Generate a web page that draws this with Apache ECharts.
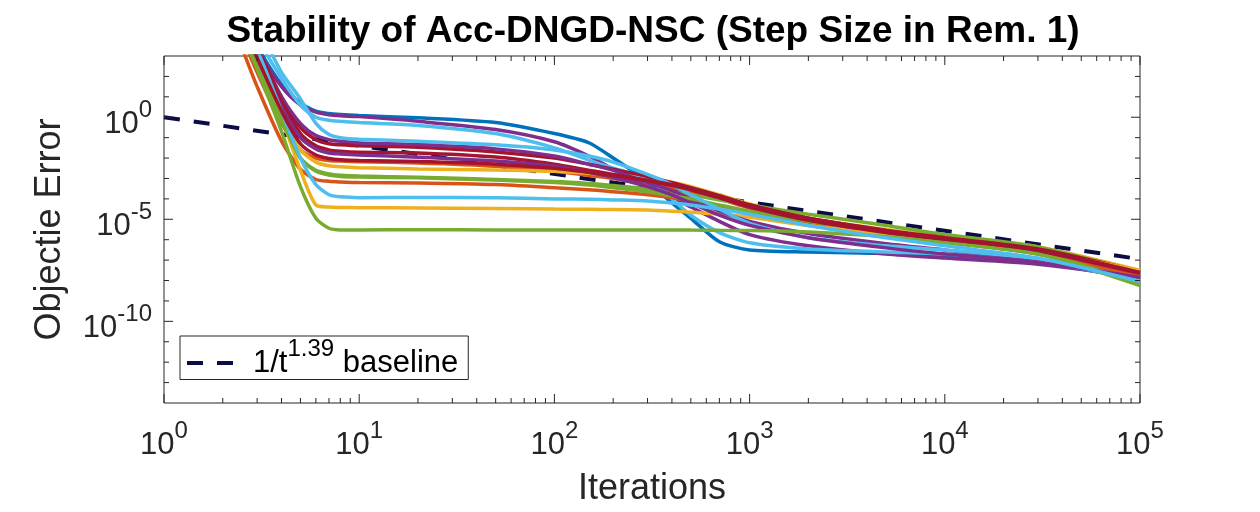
<!DOCTYPE html>
<html>
<head>
<meta charset="utf-8">
<script src="https://cdn.jsdelivr.net/npm/echarts@6/dist/echarts.min.js"></script>
<style>
  html, body { margin: 0; padding: 0; background: #fff; }
  #chart { width: 1260px; height: 512px; }
</style>
</head>
<body>
<div id="chart"></div>
<script type="text/javascript">

// iterations sampled for every run (log x axis)
var iters = [1, 2, 3, 4, 5, 6, 7, 8, 10, 20, 50, 100, 150, 200, 300, 400, 500, 700, 1000, 2000, 5000, 10000, 30000, 100000];

// objective error of each run, stored as log10 values
var runBlueA     = [11, 6.8, 3.5, 1.6, 0.7, 0.3, 0.18, 0.13, 0.08, -0.03, -0.26, -0.8, -1.25, -2.0, -3.15, -4.2, -4.95, -6.1, -6.5, -6.6, -6.68, -6.78, -7.1, -7.95];
var runPurpleA   = [11, 6.6, 3.3, 1.5, 0.6, 0.25, 0.12, 0.07, 0.03, -0.2, -0.6, -1.2, -1.9, -2.55, -3.45, -3.95, -4.4, -5.1, -5.75, -6.3, -6.7, -6.9, -7.2, -7.85];
var runLBlueA    = [11, 7.0, 3.9, 1.9, 0.6, 0.0, -0.15, -0.2, -0.26, -0.4, -0.8, -1.5, -2.1, -2.5, -3.0, -4.0, -4.8, -5.65, -6.15, -6.45, -6.6, -6.7, -7.05, -8.0];
var runLBlueB    = [11, 7.2, 4.5, 2.2, 0.9, -0.3, -0.85, -1.0, -1.08, -1.18, -1.35, -1.6, -1.9, -2.2, -2.8, -3.3, -3.8, -4.5, -5.2, -5.9, -6.3, -6.5, -6.95, -7.95];
var runPurpleB   = [11, 6.7, 3.2, 1.0, -0.3, -0.9, -1.1, -1.18, -1.26, -1.34, -1.55, -1.9, -2.3, -2.6, -3.2, -3.6, -4.0, -4.6, -5.1, -5.7, -6.2, -6.5, -7.0, -7.9];
var runRedA      = [11, 6.8, 3.4, 1.0, -0.5, -1.1, -1.3, -1.35, -1.4, -1.47, -1.7, -2.0, -2.3, -2.55, -2.9, -3.2, -3.45, -3.85, -4.3, -4.95, -5.55, -5.9, -6.45, -7.55];
var runRedB      = [11, 6.7, 3.3, 0.8, -0.8, -1.4, -1.6, -1.67, -1.72, -1.75, -1.95, -2.3, -2.6, -2.8, -3.1, -3.35, -3.55, -3.95, -4.4, -5.05, -5.65, -6.0, -6.55, -7.65];
var runPurpleC   = [11, 6.5, 3.0, 0.5, -1.0, -1.55, -1.75, -1.8, -1.85, -1.96, -2.15, -2.4, -2.7, -2.95, -3.4, -3.8, -4.2, -4.8, -5.3, -5.9, -6.4, -6.7, -7.1, -7.85];
var runRedC      = [11, 6.5, 2.9, 0.3, -1.3, -1.85, -2.02, -2.08, -2.12, -2.17, -2.3, -2.5, -2.7, -2.85, -3.1, -3.3, -3.5, -3.85, -4.3, -4.95, -5.55, -5.95, -6.5, -7.6];
var runOrangeA   = [10.5, 6.0, 2.2, -0.3, -1.6, -2.0, -2.12, -2.15, -2.18, -2.24, -2.4, -2.65, -2.85, -3.0, -3.25, -3.45, -3.65, -4.0, -4.45, -5.1, -5.7, -6.05, -6.6, -7.7];
var runYellowA   = [11, 6.4, 2.8, 0.0, -1.6, -2.2, -2.38, -2.43, -2.47, -2.53, -2.58, -2.65, -2.75, -2.85, -3.0, -3.2, -3.4, -3.8, -4.25, -4.95, -5.5, -5.85, -6.35, -7.5];
var runGreenA    = [10.5, 6.2, 2.4, -0.2, -2.0, -2.6, -2.78, -2.84, -2.88, -2.94, -3.05, -3.15, -3.25, -3.35, -3.5, -3.65, -3.8, -4.05, -4.3, -4.75, -5.3, -5.75, -6.35, -7.6];
var runGreenB    = [10.5, 6.4, 2.6, -0.1, -2.0, -2.65, -2.83, -2.9, -2.93, -2.97, -3.08, -3.2, -3.32, -3.45, -3.65, -3.85, -4.0, -4.3, -4.6, -5.1, -5.6, -6.0, -6.6, -8.2];
var runOrangeB   = [10, 5.6, 1.5, -1.17, -2.55, -3.05, -3.14, -3.17, -3.2, -3.22, -3.3, -3.45, -3.55, -3.65, -3.8, -3.95, -4.1, -4.35, -4.65, -5.15, -5.7, -6.1, -6.7, -7.85];
var runLBlueC    = [11, 6.6, 3.3, 0.3, -2.0, -3.3, -3.8, -3.9, -3.94, -3.93, -3.95, -4.0, -4.02, -4.05, -4.1, -4.2, -4.3, -4.5, -4.75, -5.3, -5.9, -6.3, -6.9, -8.05];
var runYellowB   = [11, 6.5, 3.0, 0.0, -2.6, -4.3, -4.4, -4.42, -4.43, -4.45, -4.47, -4.5, -4.51, -4.52, -4.55, -4.6, -4.65, -4.75, -4.9, -5.3, -5.75, -6.05, -6.6, -7.5];
var runGreenC    = [10.5, 6.95, 2.4, -0.7, -3.4, -4.95, -5.44, -5.52, -5.52, -5.51, -5.52, -5.52, -5.52, -5.52, -5.52, -5.52, -5.53, -5.54, -5.55, -5.62, -5.85, -6.15, -6.7, -8.25];

// the 1/t^1.39 reference line, two end points
var baseIters = [1, 100000];
var baseVals = [1, 1.12e-7];

// matlab default colour order
var cBlue = '#0072BD', cOrange = '#D95319', cYellow = '#EDB120', cPurple = '#7E2F8E';
var cGreen = '#77AC30', cLBlue = '#4DBEEE', cRed = '#A2142F';
var cBase = '#0b0b45';

var runs = [
  ['r1', runBlueA, cBlue], ['r2', runOrangeA, cOrange], ['r3', runYellowA, cYellow],
  ['r4', runPurpleA, cPurple], ['r5', runGreenA, cGreen], ['r6', runLBlueA, cLBlue],
  ['r7', runRedA, cRed], ['r8', runOrangeB, cOrange], ['r9', runYellowB, cYellow],
  ['r10', runPurpleB, cPurple], ['r11', runGreenB, cGreen], ['r12', runLBlueB, cLBlue],
  ['r13', runRedB, cRed], ['r14', runPurpleC, cPurple], ['r15', runGreenC, cGreen],
  ['r16', runLBlueC, cLBlue], ['r17', runRedC, cRed]
];

var xMin = 1, xMax = 1e5, yMin = 1e-14, yMax = 1e3;
var axisColor = '#262626';
var font = '"Liberation Sans", Helvetica, Arial, sans-serif';

// tick marks (matlab style, inside, on all four sides)
var tickData = [];
for (var d = 0; d <= 5; d++) {
  tickData.push([Math.pow(10, d), yMin, 0, 1]);
  if (d < 5) for (var k = 2; k <= 9; k++) tickData.push([k * Math.pow(10, d), yMin, 0, 0]);
}
for (var e = -13; e <= 2; e++) {
  tickData.push([xMin, Math.pow(10, e), 1, e % 5 === 0 ? 1 : 0]);
}

function powLabel(v) {
  var e = Math.round(Math.log10(v));
  return '{b|10}{s|' + e + '}';
}

var richPow = {
  b: { fontSize: 31, lineHeight: 52, color: axisColor, fontFamily: font },
  s: { fontSize: 24, lineHeight: 24, verticalAlign: 'top', color: axisColor, fontFamily: font }
};

var series = [];
series.push({
  name: 'baseline',
  type: 'line',
  data: baseIters.map(function (t, i) { return [t, baseVals[i]]; }),
  showSymbol: false,
  symbol: 'none',
  lineStyle: { color: cBase, width: 4, type: [16, 14] },
  itemStyle: { color: cBase },
  z: 1
});
runs.forEach(function (r) {
  series.push({
    name: r[0],
    type: 'line',
    data: iters.map(function (t, i) { return [t, Math.pow(10, r[1][i])]; }),
    showSymbol: false,
    symbol: 'none',
    smooth: 0.25,
    lineStyle: { color: r[2], width: 3.5 },
    itemStyle: { color: r[2] },
    z: 2
  });
});
series.push({
  type: 'custom',
  silent: true,
  data: tickData,
  encode: { x: 0, y: 1 },
  z: 5,
  renderItem: function (params, api) {
    var v0 = api.value(0), v1 = api.value(1), kind = api.value(2);
    var len = api.value(3) ? 9 : 5;
    var st = { stroke: axisColor, lineWidth: 1 };
    if (kind === 0) {
      var pb = api.coord([v0, yMin]), pt = api.coord([v0, yMax]);
      return { type: 'group', children: [
        { type: 'line', shape: { x1: pb[0], y1: pb[1], x2: pb[0], y2: pb[1] - len }, style: st },
        { type: 'line', shape: { x1: pt[0], y1: pt[1], x2: pt[0], y2: pt[1] + len }, style: st }
      ]};
    }
    var pl = api.coord([xMin, v1]), pr = api.coord([xMax, v1]);
    return { type: 'group', children: [
      { type: 'line', shape: { x1: pl[0], y1: pl[1], x2: pl[0] + len, y2: pl[1] }, style: st },
      { type: 'line', shape: { x1: pr[0], y1: pr[1], x2: pr[0] - len, y2: pr[1] }, style: st }
    ]};
  }
});

var chart = echarts.init(document.getElementById('chart'));
var option = {
  animation: false,
  backgroundColor: '#fff',
  title: {
    text: 'Stability of Acc-DNGD-NSC (Step Size in Rem. 1)',
    left: 648,
    textAlign: 'center',
    top: 8,
    textStyle: { fontSize: 37, fontWeight: 'bold', color: '#000', fontFamily: font }
  },
  grid: {
    left: 164, right: 120, top: 56, bottom: 108,
    show: true, borderColor: axisColor, borderWidth: 1, backgroundColor: '#fff'
  },
  legend: {
    data: [{ name: 'baseline', icon: 'path://M0,0H16V4H0Z M30,0H46V4H30Z' }],
    left: 180, top: 336,
    padding: [1, 10, 1, 7],
    itemWidth: 48, itemHeight: 4,
    itemStyle: { color: cBase, borderWidth: 0, opacity: 1 },
    backgroundColor: '#fff', borderColor: axisColor, borderWidth: 1, borderRadius: 0,
    formatter: function () { return '{g| }{a|1/t}{s|1.39}{a| baseline}'; },
    textStyle: {
      rich: {
        g: { width: 14 },
        a: { fontSize: 31, lineHeight: 52, color: '#000', fontFamily: font },
        s: { fontSize: 24, lineHeight: 24, verticalAlign: 'top', color: '#000', fontFamily: font }
      }
    }
  },
  xAxis: {
    type: 'log', logBase: 10, min: xMin, max: xMax, interval: 1,
    name: 'Iterations', nameLocation: 'middle', nameGap: 68,
    nameTextStyle: { fontSize: 36, color: axisColor, fontFamily: font },
    axisLine: { show: false }, axisTick: { show: false }, splitLine: { show: false },
    axisLabel: { margin: 16, formatter: powLabel, rich: richPow }
  },
  yAxis: {
    type: 'log', logBase: 10, min: yMin, max: yMax, interval: 1,
    name: 'Objectie Error', nameLocation: 'middle', nameGap: 96,
    nameTextStyle: { fontSize: 36, color: axisColor, fontFamily: font },
    axisLine: { show: false }, axisTick: { show: false }, splitLine: { show: false },
    axisLabel: {
      margin: 12,
      padding: [14, 0, 0, 0],
      formatter: function (v) {
        var e = Math.round(Math.log10(v));
        return e % 5 === 0 ? powLabel(v) : '';
      },
      rich: richPow
    }
  },
  series: series
};
chart.setOption(option);
</script>
</body>
</html>
